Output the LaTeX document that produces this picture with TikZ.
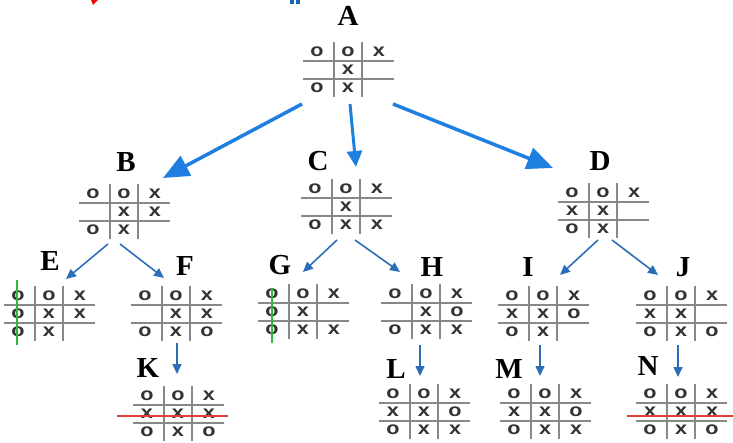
\documentclass[tikz,border=0pt]{standalone}
\usepackage{fontspec}
\setmainfont{Liberation Serif}
\newfontfamily\marksfont{Liberation Sans}
\usetikzlibrary{arrows.meta}
\definecolor{gridgray}{HTML}{888888}
\definecolor{markgray}{HTML}{333333}
\definecolor{bigblue}{HTML}{1E7FE0}
\definecolor{smallblue}{HTML}{2C6DB8}
\definecolor{winred}{HTML}{E0403A}
\definecolor{wingreen}{HTML}{2DBB3A}
\tikzset{
  gridline/.style={draw=gridgray, line width=1.4pt},
  markcell/.style={font=\marksfont\bfseries\fontsize{18}{18}\selectfont, text=markgray, inner sep=0pt, xscale=1.2},
  lbl/.style={font=\bfseries\fontsize{29}{29}\selectfont, inner sep=0pt, text=black},
  bigarrow/.style={draw=bigblue, line width=3.5pt, -{Triangle[length=26pt,width=22pt]}},
  midarrow/.style={draw=bigblue, line width=3pt, -{Triangle[length=16pt,width=15pt]}},
  smallarrow/.style={draw=smallblue, line width=1.6pt, -{Triangle[length=10pt,width=9pt]}},
  winline/.style={line width=1.2pt},
}
\newcommand\drawboard[6]{%
  \coordinate (#1) at (#2,#3);
  \draw[gridline] ({#2-45},{#3-9}) -- ({#2+46},{#3-9});
  \draw[gridline] ({#2-45},{#3+9}) -- ({#2+46},{#3+9});
  \draw[gridline] ({#2-14},{#3-28}) -- ({#2-14},{#3+27});
  \draw[gridline] ({#2+14},{#3-28}) -- ({#2+14},{#3+27});
  \foreach \m [count=\i] in {#4} {\node[markcell] (#1-1-\i) at ({#2-62+31*\i},{#3-18}) {\m};}
  \foreach \m [count=\i] in {#5} {\node[markcell] (#1-2-\i) at ({#2-62+31*\i},{#3}) {\m};}
  \foreach \m [count=\i] in {#6} {\node[markcell] (#1-3-\i) at ({#2-62+31*\i},{#3+18}) {\m};}
}
\begin{document}
\begin{tikzpicture}[x=1pt,y=-1pt]
\useasboundingbox (0,0) rectangle (733,443);
% cut-off fragments at the top edge
\fill[red] (91,0) -- (98,0) -- (93,5) -- cycle;
\fill[bigblue!80!black] (290,0) rectangle (294,4);
\fill[bigblue!80!black] (296,0) rectangle (300,4);

% boards
\drawboard{bA}{348}{70}{o,o,x}{{},x,{}}{o,x,{}}
\drawboard{bB}{124}{212}{o,o,x}{{},x,x}{o,x,{}}
\drawboard{bC}{346}{207}{o,o,x}{{},x,{}}{o,x,x}
\drawboard{bD}{603}{211}{o,o,x}{x,x,{}}{o,x,{}}
\drawboard{bE}{49}{314}{o,o,x}{o,x,x}{o,x,{}}
\drawboard{bF}{176}{314}{o,o,x}{{},x,x}{o,x,o}
\drawboard{bG}{303}{312}{o,o,x}{o,x,{}}{o,x,x}
\drawboard{bH}{426}{312}{o,o,x}{{},x,o}{o,x,x}
\drawboard{bI}{543}{314}{o,o,x}{x,x,o}{o,x,{}}
\drawboard{bJ}{681}{314}{o,o,x}{x,x,{}}{o,x,o}
\drawboard{bK}{178}{414}{o,o,x}{x,x,x}{o,x,o}
\drawboard{bL}{424}{412}{o,o,x}{x,x,o}{o,x,x}
\drawboard{bM}{545}{412}{o,o,x}{x,x,o}{o,x,x}
\drawboard{bN}{681}{412}{o,o,x}{x,x,x}{o,x,o}

% winning lines
\coordinate (gE1) at (17,280); \coordinate (gE2) at (17,345);
\draw[wingreen, winline] (gE1) -- (gE2);
\coordinate (gG1) at (272,288); \coordinate (gG2) at (272,343);
\draw[wingreen, winline] (gG1) -- (gG2);
\coordinate (rK1) at (117,416); \coordinate (rK2) at (228,416);
\draw[winred, winline] (rK1) -- (rK2);
\coordinate (rN1) at (627,416); \coordinate (rN2) at (733,416);
\draw[winred, winline] (rN1) -- (rN2);

% labels
\node[lbl] (lA) at (348,16) {A};
\node[lbl] (lB) at (126,162) {B};
\node[lbl] (lC) at (318,161) {C};
\node[lbl] (lD) at (600,161) {D};
\node[lbl] (lE) at (50,261) {E};
\node[lbl] (lF) at (185,266) {F};
\node[lbl] (lG) at (280,265) {G};
\node[lbl] (lH) at (432,267) {H};
\node[lbl] (lI) at (528,267) {I};
\node[lbl] (lJ) at (683,267) {J};
\node[lbl] (lK) at (148,368) {K};
\node[lbl] (lL) at (396,369) {L};
\node[lbl] (lM) at (509,369) {M};
\node[lbl] (lN) at (648,366) {N};

% arrow end points
\coordinate (aB0) at (302,104); \coordinate (aB1) at (163,178);
\coordinate (aC0) at (350,104); \coordinate (aC1) at (356,167);
\coordinate (aD0) at (393,104); \coordinate (aD1) at (553,168);
\coordinate (aE0) at (108,244); \coordinate (aE1) at (66,279);
\coordinate (aF0) at (120,244); \coordinate (aF1) at (164,278);
\coordinate (aG0) at (337,240); \coordinate (aG1) at (303,272);
\coordinate (aH0) at (355,240); \coordinate (aH1) at (400,272);
\coordinate (aI0) at (598,240); \coordinate (aI1) at (560,275);
\coordinate (aJ0) at (612,240); \coordinate (aJ1) at (658,275);
\coordinate (aK0) at (177,343); \coordinate (aK1) at (177,374);
\coordinate (aL0) at (420,345); \coordinate (aL1) at (420,376);
\coordinate (aM0) at (540,345); \coordinate (aM1) at (540,376);
\coordinate (aN0) at (678,345); \coordinate (aN1) at (678,377);

\draw[bigarrow] (aB0) -- (aB1);
\draw[midarrow] (aC0) -- (aC1);
\draw[bigarrow] (aD0) -- (aD1);
\foreach \t in {E,F,G,H,I,J,K,L,M,N} {\draw[smallarrow] (a\t0) -- (a\t1);}
\end{tikzpicture}
\end{document}
